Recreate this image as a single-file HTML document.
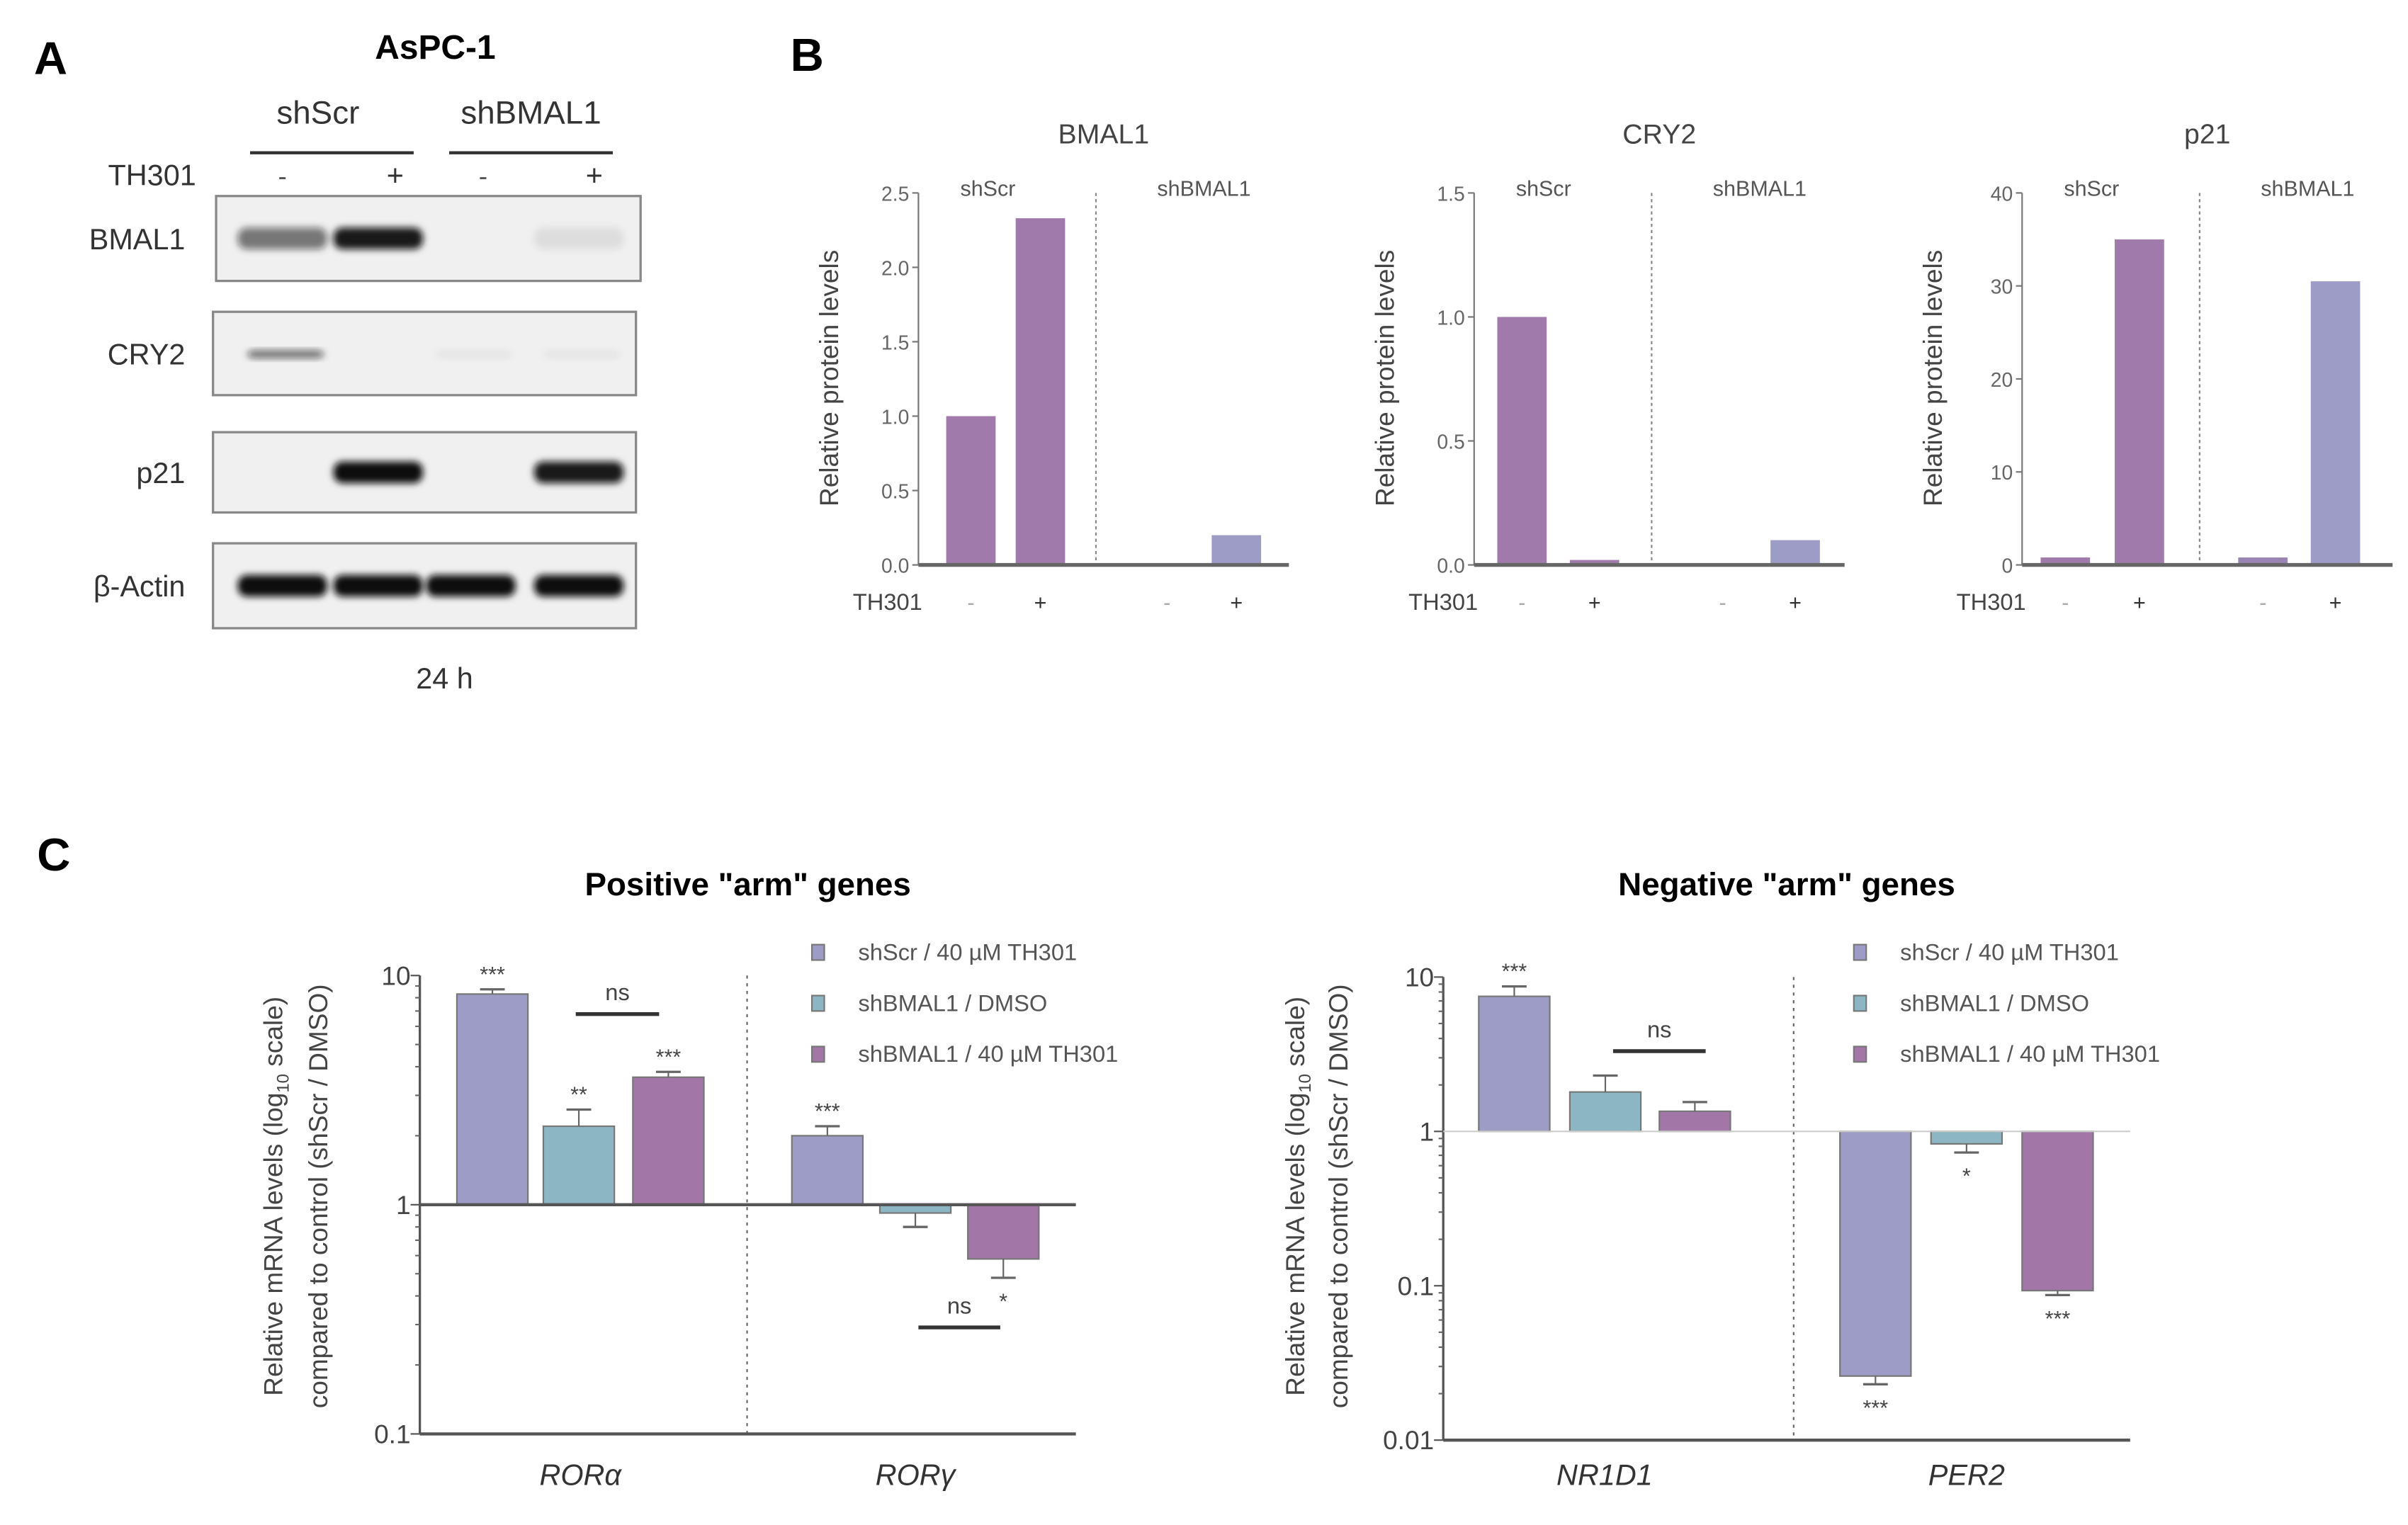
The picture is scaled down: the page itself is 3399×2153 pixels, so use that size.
<!DOCTYPE html>
<html><head><meta charset="utf-8"><style>
html,body{margin:0;padding:0;background:#fff;}
svg{display:block;font-family:"Liberation Sans",sans-serif;}
</style></head><body>
<svg id="fig" width="3399" height="2153" viewBox="0 0 1560 988" preserveAspectRatio="none" xmlns="http://www.w3.org/2000/svg">
<defs><filter id="blur" x="-20%" y="-50%" width="140%" height="200%"><feGaussianBlur stdDeviation="2.2"/></filter></defs>
<rect width="1560" height="988" fill="#fff"/>
<!-- Panel A -->
<g>
<text x="22" y="48" font-size="30" font-weight="bold">A</text>
<text x="282" y="38" font-size="22" font-weight="bold" text-anchor="middle">AsPC-1</text>
<text x="206" y="80" font-size="21" text-anchor="middle" fill="#333">shScr</text>
<text x="344" y="80" font-size="21" text-anchor="middle" fill="#333">shBMAL1</text>
<line x1="162" y1="99" x2="268" y2="99" stroke="#333" stroke-width="2"/>
<line x1="291" y1="99" x2="397" y2="99" stroke="#333" stroke-width="2"/>
<text x="70" y="120" font-size="19" fill="#333">TH301</text>
<text x="183" y="120" font-size="17" text-anchor="middle" fill="#555">-</text>
<text x="256" y="120" font-size="19" text-anchor="middle" fill="#333">+</text>
<text x="313" y="120" font-size="17" text-anchor="middle" fill="#555">-</text>
<text x="385" y="120" font-size="19" text-anchor="middle" fill="#333">+</text>
<g id="blots"></g>
<text x="288" y="446" font-size="19" text-anchor="middle" fill="#333">24 h</text>
</g>
<text x="512" y="46" font-size="30" font-weight="bold">B</text>
<g id="panelB"></g>
<text x="24" y="564" font-size="30" font-weight="bold">C</text>
<g id="panelC"></g>
</svg>
<script>
const NS='http://www.w3.org/2000/svg';
function mk(tag,attrs,parent,txt){const e=document.createElementNS(NS,tag);for(const k in attrs)e.setAttribute(k,attrs[k]);if(txt!==undefined)e.textContent=txt;parent.appendChild(e);return e;}

// ---- Panel A blots ----
const blotNames=['BMAL1','CRY2','p21','β-Actin'];
const blotIntensity=[[0.55,0.95,0,0.08],[0.6,0,0.05,0.05],[0,1,0,0.95],[1,1,1,1]];
const blotBoxes=[[140,127,275,55],[138,202,274,54],[138,280,274,52],[138,352,274,55]];
const laneX=[183,245,305,375];
const blotG=document.getElementById('blots');
blotNames.forEach((n,i)=>{
  const b=blotBoxes[i];
  const g=mk('g',{},blotG);
  
  
  mk('rect',{x:b[0],y:b[1],width:b[2],height:b[3],fill:'#f0f0f0',stroke:'#888','stroke-width':1.5},g);
  const t=mk('text',{x:120,y:b[1]+b[3]/2+7,'font-size':19,'text-anchor':'end',fill:'#333','font-style':n.startsWith('β')?'normal':'normal'},g,n);
  blotIntensity[i].forEach((v,j)=>{
    if(v<=0)return;
    const w=i===1?30:58;
    mk('rect',{x:laneX[j]-w/2-(i===1?8:0),y:b[1]+b[3]/2-(i===1?2:7),width:w+(i===1?20:0),height:i===1?5:14,rx:6,fill:'#111','fill-opacity':v,filter:'url(#blur)'},g);
  });
});

// ---- Panel B ----
const bTitles=['BMAL1','CRY2','p21'];
const bMax=[2.5,1.5,40];
const bTicks=[['0.0','0.5','1.0','1.5','2.0','2.5'],['0.0','0.5','1.0','1.5'],['0','10','20','30','40']];
const bTickVals=[[0,0.5,1,1.5,2,2.5],[0,0.5,1,1.5],[0,10,20,30,40]];
const bValues=[[1.0,2.33,0.0,0.2],[1.0,0.02,0.0,0.1],[0.8,35,0.8,30.5]];
const bAxisX=[595,955,1310];
const bBarX=[[613,658,740,785],[970,1017,1100,1147],[1322,1370,1450,1497]];
const bColors=['#a07aaa','#a07aaa','#9a84b4','#9d9cc6'];
const pB=document.getElementById('panelB');
const bTop=125,bBot=366;
bTitles.forEach((t,i)=>{
  const g=mk('g',{},pB);
  
  
  const ax=bAxisX[i], xr=ax+240;
  const ys=v=>bBot-(v/bMax[i])*(bBot-bTop);
  mk('text',{x:ax+120,y:93,'font-size':18,'text-anchor':'middle',fill:'#444'},g,t);
  mk('line',{x1:ax,y1:bTop,x2:ax,y2:bBot,stroke:'#777','stroke-width':1},g);
  bTickVals[i].forEach((v,k)=>{
    mk('line',{x1:ax-4,y1:ys(v),x2:ax,y2:ys(v),stroke:'#777'},g);
    mk('text',{x:ax-6,y:ys(v)+5,'font-size':13,'text-anchor':'end',fill:'#666'},g,bTicks[i][k]);
  });
  const yl=mk('text',{x:0,y:0,'font-size':17,'text-anchor':'middle',fill:'#444',transform:`translate(${ax-52},245) rotate(-90)`},g,'Relative protein levels');
  
  mk('line',{x1:ax+115,y1:bTop,x2:ax+115,y2:bBot,stroke:'#888','stroke-dasharray':'2,2'},g);
  mk('text',{x:ax+45,y:127,'font-size':14,'text-anchor':'middle',fill:'#555'},g,'shScr');
  mk('text',{x:ax+185,y:127,'font-size':14,'text-anchor':'middle',fill:'#555'},g,'shBMAL1');
  bValues[i].forEach((v,j)=>{
    const r=mk('rect',{x:bBarX[i][j],y:ys(v),width:32,height:Math.max(0,bBot-ys(v)),fill:bColors[j]},g);
    
    
    mk('text',{x:bBarX[i][j]+16,y:395,'font-size':14,'text-anchor':'middle',fill:j%2?'#333':'#aaa'},g,j%2?'+':'-');
  });
  mk('line',{x1:ax,y1:bBot,x2:xr,y2:bBot,stroke:'#666','stroke-width':2.5},g);
  mk('text',{x:ax-20,y:395,'font-size':15,'text-anchor':'middle',fill:'#444'},g,'TH301');
});

// ---- Panel C ----
const cTitles=['Positive "arm" genes','Negative "arm" genes'];
const cGenes=[['RORα','RORγ'],['NR1D1','PER2']];
const cSeries=['shScr / 40 µM TH301','shBMAL1 / DMSO','shBMAL1 / 40 µM TH301'];
const cValsPos=[[8.3,2.2,3.6],[2.0,0.92,0.58]];
const cErrPos=[[0.4,0.4,0.2],[0.2,0.12,0.1]];
const cValsNeg=[[7.5,1.8,1.35],[0.026,0.83,0.093]];
const cErrNeg=[[1.2,0.5,0.2],[0.003,0.1,0.006]];
const cStarsPos=[['***','**','***'],['***','','*']];
const cStarsNeg=[['***','',''],['***','*','***']];
const cColors=['#9d9cc6','#8db6c4','#a277a8'];
const pC=document.getElementById('panelC');
const cfgs=[
 {ax:272,xr:697,yTop:632,yBot:929,logMin:-1,logMax:1,ticks:['0.1','1','10'],tickVals:[0.1,1,10],vals:cValsPos,errs:cErrPos,stars:cStarsPos,barX:[[296,352,410],[513,570,627]],div:484,legX:530,ylX:[183,212]},
 {ax:935,xr:1380,yTop:633,yBot:933,logMin:-2,logMax:1,ticks:['0.01','0.1','1','10'],tickVals:[0.01,0.1,1,10],vals:cValsNeg,errs:cErrNeg,stars:cStarsNeg,barX:[[958,1017,1075],[1192,1251,1310]],div:1162,legX:1205,ylX:[845,873]}
];
cfgs.forEach((c,i)=>{
  const g=mk('g',{},pC);
  
  
  const ys=v=>c.yBot-(Math.log10(v)-c.logMin)/(c.logMax-c.logMin)*(c.yBot-c.yTop);
  const mid=(c.ax+c.xr)/2;
  mk('text',{x:mid,y:580,'font-size':21,'font-weight':'bold','text-anchor':'middle'},g,cTitles[i]);
  mk('line',{x1:c.ax,y1:c.yTop,x2:c.ax,y2:c.yBot,stroke:'#555','stroke-width':1.5},g);
  for(let d=c.logMin;d<c.logMax;d++)for(let m=2;m<10;m++){const y=ys(m*Math.pow(10,d));mk('line',{x1:c.ax-3,y1:y,x2:c.ax,y2:y,stroke:'#666'},g);}
  c.tickVals.forEach((v,k)=>{
    mk('line',{x1:c.ax-6,y1:ys(v),x2:c.ax,y2:ys(v),stroke:'#555'},g);
    mk('text',{x:c.ax-6,y:ys(v)+6,'font-size':17,'text-anchor':'end',fill:'#444'},g,c.ticks[k]);
  });
  const yl1=mk('text',{'font-size':17,'text-anchor':'middle',fill:'#444',transform:`translate(${c.ylX[0]},775) rotate(-90)`},g);
  
  yl1.innerHTML='Relative mRNA levels (log<tspan font-size="11" dy="4">10</tspan><tspan dy="-4"> scale)</tspan>';
  mk('text',{'font-size':17,'text-anchor':'middle',fill:'#444',transform:`translate(${c.ylX[1]},775) rotate(-90)`},g,'compared to control (shScr / DMSO)');
  mk('line',{x1:c.div,y1:c.yTop,x2:c.div,y2:c.yBot,stroke:'#666','stroke-dasharray':'2,3'},g);
  const y1=ys(1);
  c.vals.forEach((grp,gi)=>{
    grp.forEach((v,j)=>{
      const x=c.barX[gi][j],w=46,yv=ys(v);
      const r=mk('rect',{x:x,y:Math.min(yv,y1),width:w,height:Math.abs(y1-yv),fill:cColors[j],stroke:'#777','stroke-width':1},g);
      
      
      const e=c.errs[gi][j], up=v>=1, ye=ys(up?v+e:Math.max(v-e,1e-4));
      mk('line',{x1:x+w/2,y1:yv,x2:x+w/2,y2:ye,stroke:'#666'},g);
      mk('line',{x1:x+w/2-8,y1:ye,x2:x+w/2+8,y2:ye,stroke:'#666','stroke-width':1.5},g);
      const s=c.stars[gi][j];
      if(s)mk('text',{x:x+w/2,y:up?ye-5:ye+20,'font-size':14,'text-anchor':'middle',fill:'#444'},g,s);
    });
    mk('text',{x:(c.barX[gi][0]+c.barX[gi][2]+46)/2,y:962,'font-size':19,'font-style':'italic','text-anchor':'middle',fill:'#333'},g,cGenes[i][gi]);
  });
  mk('line',{x1:c.ax,y1:y1,x2:c.xr,y2:y1,stroke:i?'#ccc':'#555','stroke-width':i?1:2},g);
  mk('line',{x1:c.ax,y1:c.yBot,x2:c.xr,y2:c.yBot,stroke:'#555','stroke-width':2},g);
  cSeries.forEach((s,k)=>{
    const ly=618+k*33;
    const le=mk('g',{},g);
    
    
    mk('rect',{x:c.legX-4,y:ly-6,width:8,height:10,fill:cColors[k],stroke:'#777'},le);
    mk('text',{x:c.legX+26,y:ly+4,'font-size':15,fill:'#555'},le,s);
  });
});
// ns brackets
const nsData=[[373,427,657,'ns'],[595,648,860,'ns'],[1045,1105,681,'ns']];
nsData.forEach(n=>{
  mk('line',{x1:n[0],y1:n[2],x2:n[1],y2:n[2],stroke:'#333','stroke-width':2.5},pC);
  mk('text',{x:(n[0]+n[1])/2,y:n[2]-9,'font-size':15,'text-anchor':'middle',fill:'#444'},pC,n[3]);
});
</script>
</body></html>
